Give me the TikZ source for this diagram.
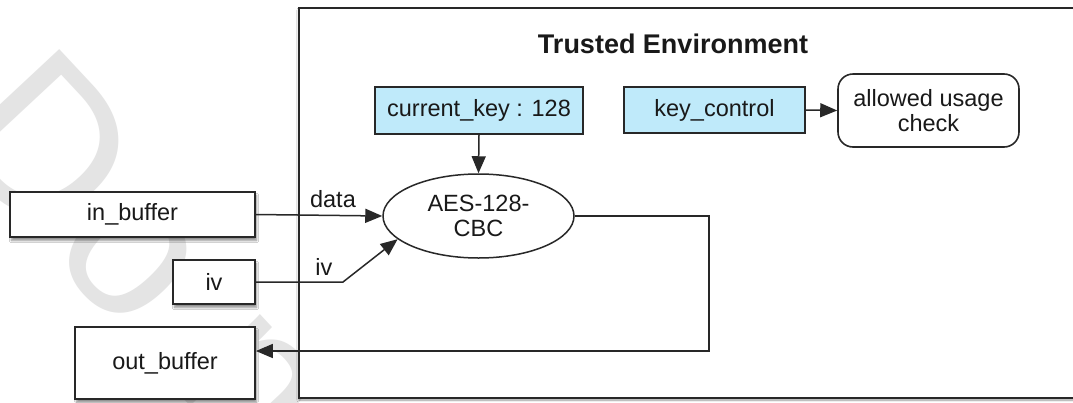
\documentclass[tikz,border=0pt]{standalone}
\usepackage{fontspec}
\setmainfont{Liberation Sans}
\usetikzlibrary{arrows.meta,shapes.geometric,shadows.blur}
\definecolor{keyblue}{RGB}{191,234,250}
\definecolor{linegray}{RGB}{40,40,40}
\definecolor{wmgray}{RGB}{228,228,228}
\tikzset{
  lbl/.style={font=\fontsize{23.5}{27}\selectfont, text=black!90, inner sep=0pt},
  plainbox/.style={draw=linegray, line width=1.7pt, fill=white, lbl,
    blur shadow={shadow xshift=1.5pt, shadow yshift=-3.5pt, shadow blur steps=8, shadow opacity=45}},
  bluebox/.style={draw=linegray, line width=1.6pt, fill=keyblue, lbl},
  roundbox/.style={draw=linegray, line width=1.6pt, fill=white, rounded corners=15pt, lbl, align=center},
  oval/.style={ellipse, draw=linegray, line width=1.5pt, fill=white, lbl, align=center},
  conn/.style={draw=linegray, line width=1.5pt, -{Triangle[length=17pt,width=14pt,fill=linegray]}},
}
\begin{document}
\begin{tikzpicture}[x=1pt,y=-1pt]
\useasboundingbox (0,0) rectangle (1073,402);
\fill[white] (0,0) rectangle (1073,402);
% watermark
\node[anchor=base west, rotate=-47, inner sep=0pt, text=wmgray,
  font=\fontsize{215}{215}\selectfont] (watermark) at (-61,137) {Do not};
% trusted environment
\node[draw=linegray, line width=2.4pt, fill=white, minimum width=786pt, minimum height=390pt,
  inner sep=0pt, blur shadow={shadow xshift=0pt, shadow yshift=-2pt, shadow blur steps=8, shadow opacity=40}]
  (trusted) at (692,203) {};
\node[lbl, font=\fontsize{27}{30}\bfseries\selectfont] (title) at (673,44) {Trusted Environment};
% boxes
\node[plainbox, minimum width=245pt, minimum height=45pt] (inbuf) at (132.5,214.5) {in\_buffer};
\node[plainbox, minimum width=82pt, minimum height=44pt] (iv) at (214,282) {iv};
\node[plainbox, minimum width=180pt, minimum height=72pt] (outbuf) at (165,363) {out\_buffer};
\node[bluebox, minimum width=208pt, minimum height=47pt] (curkey) at (479,110.5) {current\_key : 128};
\node[bluebox, minimum width=181pt, minimum height=46pt] (keyctl) at (714.5,110) {key\_control};
\node[roundbox, minimum width=181pt, minimum height=73pt] (allowed) at (928.5,110.5) {allowed usage\\[-2pt]check};
\node[oval, minimum width=191pt, minimum height=84pt] (aes) at (478.5,216) {AES-128-\\[-2pt]CBC};
% connectors
\draw[conn] (curkey.south) -- (aes.north);
\draw[conn] (keyctl.east) -- (allowed.west);
\draw[conn] (inbuf.east) -- node[lbl, pos=0.61, above=7pt] (datalbl) {data} (aes.west);
\coordinate (ivbend) at (343,282);
\draw[conn] (iv.east) -- node[lbl, pos=0.78, above=6pt] (ivlbl) {iv} (ivbend) -- (aes.196);
\coordinate (outturn) at (709,351);
\draw[conn] (aes.east) -| (outturn) -- (outturn -| outbuf.east);
\end{tikzpicture}
\end{document}
